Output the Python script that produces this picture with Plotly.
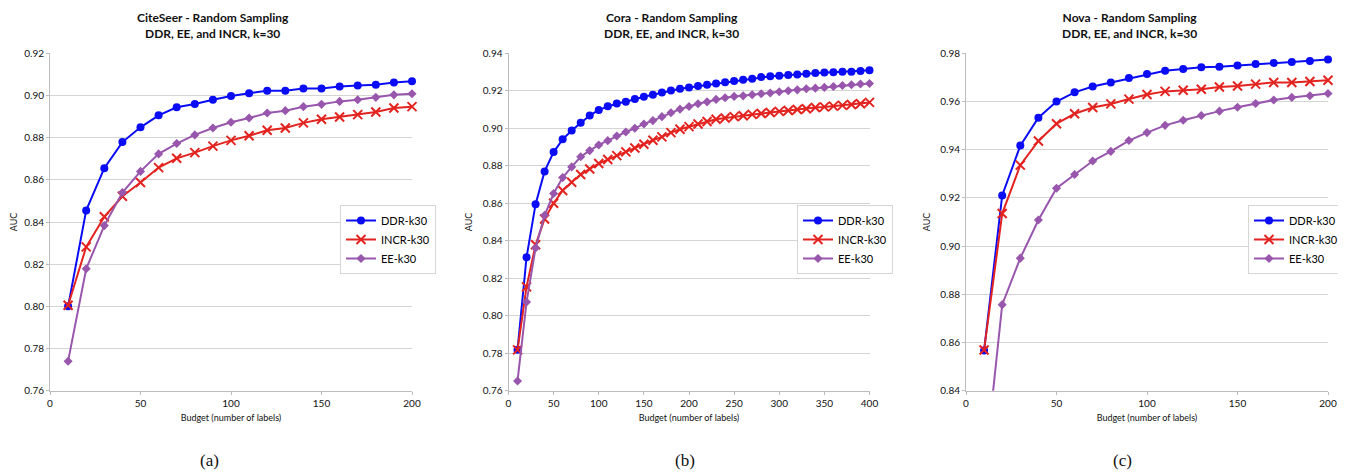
import plotly.graph_objects as go

W, H = 1346, 475
OFF = 8  # default page body margin in the written html

# ---------------- data ----------------
budget_a = list(range(10, 201, 10))
cite_ddr = [0.800, 0.8455, 0.8655, 0.8779, 0.8849, 0.8906, 0.8944, 0.8960, 0.8980, 0.8998,
            0.9011, 0.9022, 0.9022, 0.9033, 0.9033, 0.9043, 0.9047, 0.9051, 0.9062, 0.9068]
cite_incr = [0.8005, 0.8282, 0.8425, 0.8522, 0.8587, 0.8658, 0.8702, 0.8729, 0.8760, 0.8787,
             0.8809, 0.8835, 0.8846, 0.8870, 0.8887, 0.8898, 0.8909, 0.8922, 0.8941, 0.8947]
cite_ee = [0.774, 0.8178, 0.8383, 0.8540, 0.8640, 0.8723, 0.8772, 0.8813, 0.8846, 0.8873,
           0.8893, 0.8917, 0.8928, 0.8947, 0.8958, 0.8972, 0.8980, 0.8991, 0.9003, 0.9008]

budget_b = list(range(10, 401, 10))
cora_ddr = [0.7818, 0.8312, 0.8595, 0.8770, 0.8873, 0.8941, 0.8988, 0.9030, 0.9068, 0.9098,
            0.9117, 0.9132, 0.9142, 0.9156, 0.9168, 0.9179, 0.9191, 0.9202, 0.9211, 0.9218,
            0.9225, 0.9232, 0.9239, 0.9245, 0.9252, 0.9259, 0.9264, 0.9273, 0.9277, 0.9280,
            0.9284, 0.9287, 0.9291, 0.9295, 0.9297, 0.9299, 0.9302, 0.9302, 0.9306, 0.9309]
cora_incr = [0.7818, 0.8154, 0.8379, 0.8516, 0.8600, 0.8668, 0.8712, 0.8753, 0.8783, 0.8812,
             0.8833, 0.8854, 0.8874, 0.8895, 0.8915, 0.8936, 0.8954, 0.8977, 0.8995, 0.9009,
             0.9023, 0.9036, 0.9048, 0.9055, 0.9062, 0.9067, 0.9074, 0.9079, 0.9084, 0.9090,
             0.9095, 0.9100, 0.9104, 0.9111, 0.9114, 0.9118, 0.9122, 0.9127, 0.9131, 0.9138]
cora_ee = [0.7652, 0.8073, 0.8361, 0.8536, 0.8652, 0.8737, 0.8794, 0.8848, 0.8881, 0.8911,
           0.8934, 0.8959, 0.8980, 0.9000, 0.9023, 0.9041, 0.9062, 0.9083, 0.9102, 0.9116,
           0.9131, 0.9141, 0.9154, 0.9163, 0.9170, 0.9173, 0.9179, 0.9184, 0.9188, 0.9195,
           0.9200, 0.9205, 0.9211, 0.9214, 0.9218, 0.9223, 0.9228, 0.9232, 0.9236, 0.9239]

budget_c = list(range(10, 201, 10))
nova_ddr = [0.8567, 0.9210, 0.9417, 0.9533, 0.9600, 0.9638, 0.9662, 0.9679, 0.9697, 0.9714,
            0.9728, 0.9735, 0.9742, 0.9744, 0.9749, 0.9756, 0.9760, 0.9764, 0.9768, 0.9774]
nova_incr = [0.8569, 0.9135, 0.9336, 0.9436, 0.9508, 0.9549, 0.9575, 0.9590, 0.9610, 0.9629,
             0.9642, 0.9647, 0.9651, 0.9660, 0.9664, 0.9672, 0.9679, 0.9679, 0.9683, 0.9688]
nova_ee = [0.8043, 0.8757, 0.8950, 0.9108, 0.9240, 0.9297, 0.9353, 0.9393, 0.9438, 0.9471,
           0.9501, 0.9522, 0.9542, 0.9560, 0.9576, 0.9592, 0.9606, 0.9617, 0.9624, 0.9633]

series_names = ["DDR-k30", "INCR-k30", "EE-k30"]
panel_titles = [["CiteSeer - Random Sampling", "DDR, EE, and INCR, k=30"],
                ["Cora - Random Sampling", "DDR, EE, and INCR, k=30"],
                ["Nova - Random Sampling", "DDR, EE, and INCR, k=30"]]
captions = ["(a)", "(b)", "(c)"]
x_label = "Budget (number of labels)"
y_label = "AUC"

# ---------------- styling ----------------
FONT = "Lato, 'Open Sans', sans-serif"
colors = ["#0a0cf5", "#e3231f", "#9856ad"]
symbols = ["circle", "x-thin", "diamond"]
msizes = [8, 9, 7]
AXIS_GRAY = "#bdbdbd"

FW, FH = W - OFF, H - OFF


def px(x):
    return (x - OFF) / FW


def py(y):
    return 1 - (y - OFF) / FH


panels = [
    dict(x=budget_a, ys=[cite_ddr, cite_incr, cite_ee], xr=[0, 200], yr=[0.76, 0.92],
         dom=(50, 412), title_cx=213, cap_cx=209, legend=(436, 205)),
    dict(x=budget_b, ys=[cora_ddr, cora_incr, cora_ee], xr=[0, 400], yr=[0.76, 0.94],
         dom=(508.5, 869.5), title_cx=671, cap_cx=685, legend=(893, 205)),
    dict(x=budget_c, ys=[nova_ddr, nova_incr, nova_ee], xr=[0, 200], yr=[0.84, 0.98],
         dom=(966, 1328), title_cx=1129, cap_cx=1122, legend=(1344, 205)),
]

PLOT_TOP, PLOT_BOT = 53.3, 390.7

fig = go.Figure()
annotations = []
layout_extra = {}

for i, p in enumerate(panels):
    ax = "" if i == 0 else str(i + 1)
    leg = "legend" if i == 0 else f"legend{i + 1}"
    for k in range(3):
        mk = dict(symbol=symbols[k], size=msizes[k], color=colors[k])
        if symbols[k] == "x-thin":
            mk["line"] = dict(color=colors[k], width=2)
        fig.add_trace(go.Scatter(
            x=p["x"], y=p["ys"][k], name=series_names[k], mode="lines+markers",
            line=dict(color=colors[k], width=2), marker=mk, cliponaxis=False,
            xaxis="x" + ax, yaxis="y" + ax, legend=leg))
    layout_extra["xaxis" + ax] = dict(
        domain=[px(p["dom"][0]), px(p["dom"][1])], range=p["xr"], dtick=50,
        anchor="y" + ax, showgrid=False, zeroline=False, showline=True,
        linecolor=AXIS_GRAY, linewidth=1, ticks="outside", ticklen=3, tickcolor=AXIS_GRAY,
        tickfont=dict(family=FONT, size=10, color="#111"), automargin=False,
        title=dict(text=x_label, font=dict(family=FONT, size=9, color="#111"), standoff=6))
    layout_extra["yaxis" + ax] = dict(
        domain=[py(PLOT_BOT), py(PLOT_TOP)], range=p["yr"], dtick=0.02, tickformat=".2f",
        anchor="x" + ax, showgrid=True, gridcolor="#d4d4d4", gridwidth=1, zeroline=False,
        showline=True, linecolor=AXIS_GRAY, linewidth=1, ticks="outside", ticklen=3,
        tickcolor=AXIS_GRAY, tickfont=dict(family=FONT, size=10, color="#111"),
        automargin=False,
        title=dict(text=y_label, font=dict(family=FONT, size=9, color="#111"), standoff=8))
    layout_extra[leg] = dict(
        x=px(p["legend"][0]), y=py(p["legend"][1]), xanchor="right", yanchor="top",
        bgcolor="white", bordercolor="#d6d6d6", borderwidth=1,
        font=dict(family=FONT, size=11, color="#000"), itemwidth=30,
        tracegroupgap=0)
    annotations.append(dict(
        text=f"<b>{panel_titles[i][0]}</b><br><b>{panel_titles[i][1]}</b>",
        x=px(p["title_cx"]), y=py(25), xref="paper", yref="paper",
        xanchor="center", yanchor="middle", showarrow=False,
        font=dict(family=FONT, size=12, color="#111")))
    annotations.append(dict(
        text=captions[i], x=px(p["cap_cx"]), y=py(460), xref="paper", yref="paper",
        xanchor="center", yanchor="middle", showarrow=False,
        font=dict(family="'Liberation Serif', 'DejaVu Serif', serif", size=17, color="#111")))

fig.update_layout(
    width=FW, height=FH, margin=dict(l=0, r=0, t=0, b=0, autoexpand=False),
    paper_bgcolor="white", plot_bgcolor="white",
    showlegend=True, annotations=annotations, **layout_extra)

fig.write_html("out.html")
